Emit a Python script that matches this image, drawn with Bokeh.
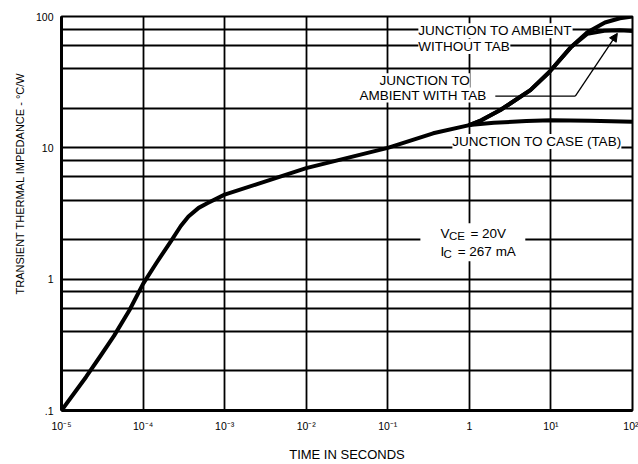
from bokeh.plotting import figure
from bokeh.models import (FixedTicker, Label, Arrow, NormalHead, BoxAnnotation, Title)
from bokeh.embed import file_html
from bokeh.resources import INLINE

# ---- data ----
t_common = [1e-5, 2e-5, 3e-5, 4.4e-5, 6.8e-5, 1e-4, 1.47e-4, 2.2e-4, 2.9e-4, 3.6e-4, 4.8e-4,
            6.2e-4, 1e-3, 2.4e-3, 1e-2, 1e-1, 0.36, 1.0]
z_common = [0.1, 0.18, 0.26, 0.37, 0.58, 0.92, 1.34, 1.95, 2.54, 3.0, 3.49,
            3.8, 4.4, 5.25, 7.0, 10.0, 12.9, 14.9]

t_case = [1.0, 2.0, 5.0, 10.0, 30.0, 100.0]
z_case = [14.9, 15.5, 16.0, 16.2, 16.1, 15.8]

t_amb_notab = [1.0, 1.4, 2.4, 5.6, 9.5, 17.4, 28.0, 46.0, 70.0, 100.0]
z_amb_notab = [14.9, 16.2, 19.4, 27.5, 37.6, 58.0, 76.0, 90.0, 97.0, 100.0]

t_amb_tab = [1.0, 1.4, 2.4, 5.6, 9.5, 17.4, 28.0, 45.0, 70.0, 100.0]
z_amb_tab = [14.9, 16.2, 19.4, 27.5, 37.6, 58.0, 74.0, 78.0, 78.5, 77.5]

x_ticks = [1e-5, 1e-4, 1e-3, 1e-2, 1e-1, 1.0, 10.0, 100.0]
x_labels = ["10\u207b\u2075", "10\u207b\u2074", "10\u207b\u00b3", "10\u207b\u00b2",
            "10\u207b\u00b9", "1", "10\u00b9", "10\u00b2"]
y_ticks = [0.1, 1.0, 10.0, 100.0]
y_labels = [".1", "1", "10", "100"]
y_grid = [0.1, 0.2, 0.4, 0.6, 0.8, 1, 2, 4, 6, 8, 10, 20, 40, 60, 80, 100]

FONT = "Liberation Sans"

p = figure(width=638, height=464, x_axis_type="log", y_axis_type="log",
           x_range=(1e-5, 100), y_range=(0.1, 100),
           output_backend="svg", toolbar_location=None,
           min_border_left=61, min_border_right=6, min_border_top=16, min_border_bottom=52)
p.background_fill_color = "white"
p.border_fill_color = "white"
p.outline_line_color = "black"
p.outline_line_width = 2

# axes
for ax in (p.xaxis[0], p.yaxis[0]):
    ax.major_tick_in = 0
    ax.major_tick_out = 0
    ax.minor_tick_in = 0
    ax.minor_tick_out = 0
    ax.axis_line_color = "black"
    ax.axis_line_width = 3
    ax.major_label_text_font = FONT
    ax.major_label_text_font_size = "10.5px"
    ax.major_label_text_color = "black"
    ax.axis_label_text_font = FONT
    ax.axis_label_text_font_style = "normal"
    ax.axis_label_text_color = "black"

p.xaxis.ticker = FixedTicker(ticks=x_ticks)
p.xaxis.major_label_overrides = {t: l for t, l in zip(x_ticks, x_labels)}
p.xaxis.major_label_standoff = 9
p.xaxis.axis_label = "TIME IN SECONDS"
p.xaxis.axis_label_text_font_size = "13px"
p.xaxis.axis_label_standoff = 12

p.yaxis.ticker = FixedTicker(ticks=y_ticks)
p.yaxis.major_label_overrides = {t: l for t, l in zip(y_ticks, y_labels)}
p.yaxis.major_label_standoff = 8

ytitle = Title(text="TRANSIENT THERMAL IMPEDANCE - \u00b0C/W", align="left",
               offset=116, text_font=FONT, text_font_size="11px",
               text_font_style="normal", text_color="black", standoff=14)
p.add_layout(ytitle, "left")

# grid
p.xgrid.ticker = FixedTicker(ticks=x_ticks)
p.ygrid.ticker = FixedTicker(ticks=y_grid)
for g in (p.xgrid[0], p.ygrid[0]):
    g.grid_line_color = "black"
    g.grid_line_width = 1.8
    g.grid_line_alpha = 1.0

# curves
p.line(t_common + t_case[1:], z_common + z_case[1:], line_color="black",
       line_width=4, line_join="round", line_cap="round")
p.line(t_amb_notab, z_amb_notab, line_color="black", line_width=4,
       line_join="round", line_cap="round")
p.line(t_amb_tab, z_amb_tab, line_color="black", line_width=4,
       line_join="round", line_cap="round")

# annotations
def lab(x, y, text, size="13.5px", bg=True, yoff=0):
    kw = dict(x=x, y=y, text=text, text_font=FONT, text_font_size=size,
              text_color="black", text_baseline="middle", text_align="left",
              y_offset=yoff)
    if bg:
        kw.update(background_fill_color="white", background_fill_alpha=1.0)
    p.add_layout(Label(**kw))

lab(0.237, 78, "JUNCTION TO AMBIENT")
lab(0.237, 59, "WITHOUT TAB")
lab(0.0789, 32.4, "JUNCTION TO")
lab(0.0449, 25.2, "AMBIENT  WITH TAB")
lab(0.619, 11.17, "JUNCTION TO CASE (TAB)")

p.add_layout(BoxAnnotation(left=0.251, right=4.85, bottom=1.37, top=2.66,
                           fill_color="white", fill_alpha=1.0, line_alpha=0))
lab(0.4415, 2.23, "V", bg=False)
lab(0.562, 2.23, "CE", size="11.5px", bg=False, yoff=-3)
lab(1.03, 2.23, "= 20V", bg=False)
lab(0.4415, 1.63, "I", bg=False)
lab(0.482, 1.63, "C", size="11.5px", bg=False, yoff=-3)
lab(0.72, 1.63, "= 267 mA", bg=False)

p.add_layout(Arrow(end=None, x_start=2.08, y_start=24.8, x_end=19.9, y_end=24.8,
                   line_color="black", line_width=1.3))
p.add_layout(Arrow(end=NormalHead(size=8, fill_color="black", line_color="black"),
                   x_start=19.9, y_start=24.8, x_end=65.2, y_end=74.4,
                   line_color="black", line_width=1.3))

open("out.html", "w").write(file_html(p, INLINE))
